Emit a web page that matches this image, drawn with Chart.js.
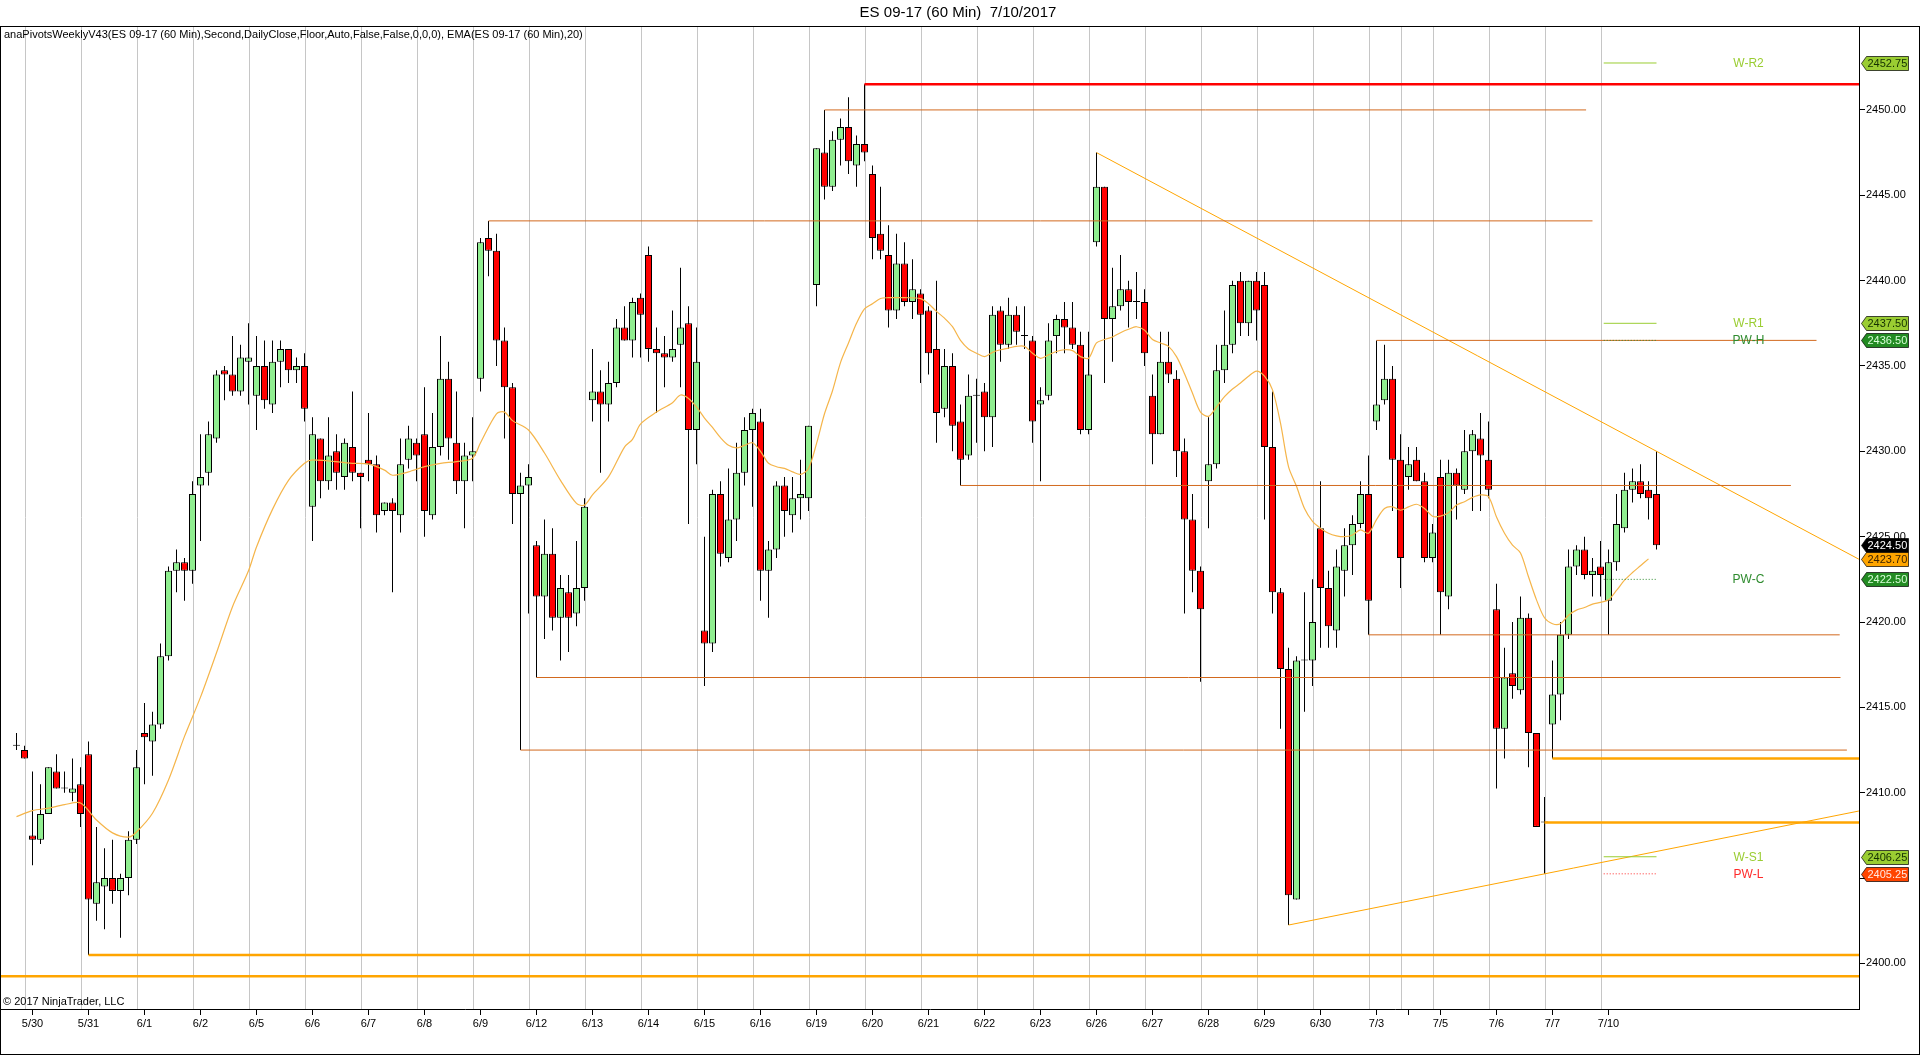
<!DOCTYPE html>
<html>
<head>
<meta charset="utf-8">
<title>ES 09-17 (60 Min) 7/10/2017</title>
<script src="https://cdn.jsdelivr.net/npm/chart.js@4.4.1/dist/chart.umd.min.js"></script>
<style>
  html, body { margin: 0; padding: 0; background: #fff; }
  #wrap { width: 1920px; height: 1055px; }
</style>
</head>
<body>
<div id="wrap"><canvas id="chart" width="1920" height="1055"></canvas></div>
<script>
// ---- chart data ----
const dayLabels = ['5/30','5/31','6/1','6/2','6/5','6/6','6/7','6/8','6/9','6/12','6/13','6/14','6/15','6/16','6/19',
  '6/20','6/21','6/22','6/23','6/26','6/27','6/28','6/29','6/30','7/3','','7/5','7/6','7/7','7/10'];
const dayFirstBar = [2,9,16,23,30,37,44,51,58,65,72,79,86,93,100,107,114,121,128,135,142,149,156,163,170,174,178,185,192,199];

const opens = [
  2412.75,2412.5,2407.5,2407.25,2408.75,2411.25,2410.25,2410.0,2410.5,2412.25,
  2403.5,2404.5,2405.0,2404.25,2405.0,2407.25,2413.5,2413.0,2414.0,2418.0,
  2423.0,2423.5,2423.0,2428.0,2428.75,2430.75,2434.75,2434.5,2433.5,2435.25,
  2433.25,2435.0,2432.75,2435.25,2436.0,2434.75,2435.0,2426.75,2430.75,2428.25,
  2430.0,2428.5,2430.25,2428.75,2429.5,2429.25,2426.5,2427.0,2426.25,2429.5,
  2430.5,2431.0,2426.25,2430.25,2434.25,2430.5,2428.25,2429.75,2434.25,2442.5,
  2441.75,2436.5,2433.75,2427.5,2428.0,2424.5,2421.5,2424.0,2420.25,2421.75,
  2420.5,2422.0,2433.0,2433.5,2432.75,2434.0,2437.25,2436.5,2439.0,2441.5,
  2436.0,2435.75,2435.5,2436.25,2437.5,2431.25,2419.5,2418.75,2427.5,2423.75,
  2426.0,2428.75,2431.25,2431.75,2423.0,2424.25,2428.0,2426.25,2427.25,2427.25,
  2439.75,2447.5,2445.5,2448.25,2449.0,2446.75,2448.0,2446.25,2442.75,2441.5,
  2438.25,2441.0,2438.75,2439.25,2438.25,2436.0,2432.5,2435.0,2431.75,2429.75,
  2433.25,2433.5,2432.0,2438.25,2436.25,2438.0,2436.75,2436.5,2432.75,2433.25,
  2436.75,2437.75,2437.25,2436.25,2431.25,2442.25,2445.5,2437.75,2438.5,2439.5,
  2438.75,2438.75,2433.25,2431.0,2435.25,2434.25,2430.0,2426.0,2423.0,2428.25,
  2429.25,2434.75,2436.25,2440.0,2437.5,2440.0,2439.75,2430.25,2421.75,2417.25,
  2403.75,2417.75,2417.75,2425.5,2422.0,2419.5,2423.0,2424.5,2425.75,2427.5,
  2431.75,2433.0,2434.25,2429.5,2428.5,2429.5,2428.25,2423.75,2428.5,2421.5,
  2428.75,2427.75,2430.0,2430.75,2429.5,2420.75,2413.75,2417.0,2416.0,2420.25,
  2413.5,2408.25,2414.0,2415.75,2419.25,2423.25,2424.25,2422.75,2423.25,2421.25,
  2423.5,2425.5,2427.75,2428.25,2427.75,2427.5
];
const highs = [
  2413.5,2412.75,2411.25,2410.5,2411.5,2412.25,2411.25,2412.0,2411.5,2413.0,
  2408.0,2406.75,2407.25,2405.25,2407.75,2412.5,2415.25,2414.75,2418.75,2423.25,
  2424.25,2423.75,2428.25,2431.0,2431.75,2434.75,2435.0,2436.75,2436.25,2437.5,
  2436.75,2436.5,2436.5,2436.5,2436.0,2435.5,2435.75,2432.0,2430.75,2432.0,
  2431.0,2430.75,2433.5,2428.75,2432.25,2429.75,2427.0,2427.25,2430.75,2431.5,
  2430.75,2433.75,2432.25,2436.75,2435.25,2433.5,2430.5,2432.0,2442.5,2443.5,
  2442.75,2437.25,2434.0,2428.75,2429.25,2424.75,2426.0,2425.5,2422.75,2422.75,
  2424.75,2427.25,2436.0,2434.75,2435.25,2437.75,2438.5,2439.0,2439.25,2442.0,
  2437.25,2436.75,2438.25,2440.75,2438.5,2437.25,2425.0,2427.75,2428.25,2429.0,
  2430.5,2432.0,2432.5,2432.5,2424.75,2428.25,2428.5,2428.5,2429.5,2431.5,
  2447.75,2450.0,2448.75,2449.5,2450.75,2448.5,2451.5,2446.75,2445.5,2443.25,
  2442.75,2442.25,2441.25,2439.5,2438.5,2440.0,2436.0,2435.75,2432.75,2434.5,
  2434.25,2434.0,2438.5,2438.5,2439.0,2438.5,2438.5,2436.75,2433.75,2437.5,
  2438.0,2438.75,2438.75,2437.0,2437.0,2447.5,2445.5,2440.75,2441.5,2440.0,
  2440.5,2439.5,2434.5,2437.0,2437.0,2434.75,2430.75,2427.5,2423.25,2432.0,
  2436.25,2438.25,2440.0,2440.5,2440.0,2440.5,2440.5,2433.5,2422.0,2418.5,
  2418.0,2421.75,2422.5,2428.25,2423.0,2424.25,2425.5,2426.25,2428.25,2429.75,
  2436.5,2436.25,2435.0,2431.0,2430.25,2430.25,2428.75,2425.75,2429.5,2429.5,
  2429.0,2431.25,2431.25,2432.25,2431.75,2422.25,2418.5,2420.0,2421.5,2420.5,
  2413.5,2409.75,2417.75,2420.0,2424.25,2424.5,2425.0,2423.75,2424.75,2424.25,
  2427.5,2428.75,2429.0,2429.25,2428.25,2430.0
];
const lows = [
  2412.5,2412.0,2405.75,2407.0,2408.75,2410.25,2410.0,2409.5,2408.0,2400.5,
  2402.5,2402.0,2403.5,2401.5,2404.0,2407.0,2410.5,2411.0,2413.75,2417.75,
  2421.75,2421.25,2422.25,2424.75,2428.0,2430.5,2433.0,2433.25,2433.25,2432.75,
  2431.25,2432.5,2432.25,2433.75,2434.0,2434.0,2431.75,2424.75,2427.25,2427.75,
  2427.75,2427.75,2428.25,2425.5,2428.25,2425.25,2426.25,2421.75,2425.25,2429.0,
  2428.25,2425.0,2426.0,2429.75,2429.5,2427.5,2425.5,2428.25,2433.5,2440.25,
  2435.0,2430.75,2425.75,2412.5,2420.5,2416.75,2419.0,2419.5,2417.75,2418.25,
  2419.75,2421.25,2431.75,2428.75,2431.75,2433.75,2436.5,2435.5,2435.5,2435.25,
  2432.25,2433.75,2435.25,2433.75,2425.75,2429.25,2416.25,2418.25,2423.25,2423.5,
  2424.75,2428.0,2426.75,2421.25,2420.25,2423.75,2425.0,2425.25,2426.0,2426.5,
  2438.5,2444.75,2445.25,2446.75,2446.25,2445.5,2447.0,2441.25,2441.25,2437.25,
  2437.75,2438.5,2437.75,2434.0,2434.5,2430.5,2432.0,2430.0,2428.0,2429.5,
  2430.5,2430.0,2430.25,2435.25,2436.0,2436.25,2436.0,2430.5,2428.25,2433.0,
  2435.75,2435.75,2436.0,2431.0,2431.0,2442.0,2434.0,2435.25,2438.25,2437.25,
  2437.75,2435.0,2429.25,2431.0,2434.0,2428.5,2420.5,2421.75,2416.5,2425.5,
  2429.0,2434.0,2435.75,2436.75,2436.75,2436.5,2426.0,2420.5,2413.75,2402.25,
  2403.75,2414.75,2416.25,2418.5,2418.5,2418.5,2421.5,2422.75,2425.5,2419.25,
  2431.25,2432.75,2426.5,2422.0,2427.75,2428.25,2423.5,2423.5,2419.25,2420.75,
  2426.0,2427.5,2426.5,2426.5,2427.25,2410.25,2412.0,2415.5,2415.75,2411.5,
  2408.0,2405.25,2412.0,2414.25,2419.0,2422.75,2422.5,2421.5,2421.5,2419.25,
  2423.0,2425.25,2427.0,2427.25,2426.0,2424.25
];
const closes = [
  2412.75,2412.0,2407.25,2408.75,2411.5,2410.25,2410.25,2410.25,2408.75,2403.75,
  2404.75,2405.0,2404.25,2405.0,2407.25,2411.5,2413.25,2414.0,2418.0,2423.0,
  2423.5,2423.0,2427.5,2428.5,2431.0,2434.5,2434.5,2433.5,2435.5,2435.5,
  2435.0,2433.0,2435.25,2436.0,2434.75,2435.0,2432.5,2431.0,2428.25,2429.75,
  2428.75,2430.5,2428.75,2428.5,2429.25,2426.25,2427.0,2426.5,2429.25,2430.75,
  2429.75,2426.5,2430.25,2434.25,2430.75,2428.25,2429.75,2430.0,2442.25,2441.75,
  2436.5,2433.75,2427.5,2428.0,2428.5,2421.5,2424.0,2420.25,2422.0,2420.25,
  2422.0,2426.75,2433.5,2432.75,2434.0,2437.25,2436.5,2438.75,2438.0,2436.0,
  2435.75,2435.5,2436.0,2437.25,2431.25,2435.25,2418.75,2427.5,2424.0,2426.0,
  2428.75,2431.25,2432.25,2423.0,2424.25,2428.0,2426.5,2427.25,2427.5,2431.5,
  2447.75,2445.5,2448.25,2449.0,2447.0,2448.0,2447.5,2442.5,2441.75,2438.25,
  2441.0,2438.75,2439.5,2438.0,2435.75,2432.25,2435.0,2431.5,2429.5,2433.25,
  2433.25,2432.0,2438.0,2436.25,2438.0,2437.0,2436.75,2431.75,2433.0,2436.5,
  2437.75,2437.25,2436.25,2431.25,2434.5,2445.5,2437.75,2438.5,2439.5,2438.75,
  2438.75,2435.75,2431.0,2435.25,2434.5,2430.0,2426.0,2423.0,2420.75,2429.25,
  2434.75,2436.25,2439.75,2437.5,2440.0,2438.25,2430.25,2421.75,2417.25,2404.0,
  2417.75,2417.75,2420.0,2422.0,2419.75,2423.25,2424.5,2425.75,2427.5,2421.25,
  2432.75,2434.25,2429.5,2423.75,2429.25,2428.25,2423.75,2425.25,2421.75,2428.75,
  2428.0,2430.0,2431.0,2429.75,2427.75,2413.75,2416.75,2416.25,2420.25,2413.5,
  2408.0,2408.25,2415.75,2419.25,2423.25,2424.25,2422.75,2423.0,2422.75,2423.5,
  2425.75,2427.75,2428.25,2427.5,2427.25,2424.5
];

// EMA(20), at these bar positions
const emaBars = [0,2,4,6,8,10,12,14,15,17,19,21,23,25,27,29,30,32,34,36,37,42,44,46,47,49,51,53,55,57,
  58,60,61,62,64,66,68,70,71,72,74,76,77,78,80,82,83,84,85,86,87,88,89,90,91,92,93,94,95,96,97,98,99,
  100,101,102,103,104,105,106,107,108,109,110,111,113,114,115,116,117,118,119,120,121,122,123,124,125,126,
  127,128,129,130,131,132,133,134,135,136,137,138,139,140,141,142,143,144,145,146,147,148,149,150,151,152,
  153,154,155,156,157,158,159,160,161,162,163,164,165,166,167,168,169,170,171,172,173,174,175,176,177,178,
  179,180,181,182,183,184,185,186,187,188,189,190,191,192,193,194,195,196,197,198,199,200,201,202,203,204];
const emaValues = [2408.6,2408.95,2409.1,2409.3,2409.4,2408.4,2407.65,2407.4,2407.7,2408.8,2410.75,2413.3,2415.6,
  2418.2,2420.9,2423.0,2424.4,2426.6,2428.3,2429.3,2429.5,2429.3,2429.25,2428.9,2428.6,2428.8,2429.1,2429.3,
  2429.4,2429.6,2430.5,2432.2,2432.3,2431.8,2431.25,2429.9,2428.3,2426.95,2426.85,2427.45,2428.5,2430.25,
  2430.7,2431.6,2432.3,2432.85,2433.3,2433.1,2432.6,2431.95,2431.4,2430.8,2430.35,2430.2,2430.35,2430.5,
  2430.0,2429.3,2429.1,2429.0,2428.8,2428.65,2429.0,2430.45,2432.2,2433.55,2435.2,2436.35,2437.5,2438.35,
  2438.65,2438.95,2439.0,2439.0,2439.0,2438.95,2438.65,2438.2,2437.8,2437.3,2436.5,2436.0,2435.75,2435.55,
  2435.8,2435.95,2436.05,2436.15,2436.15,2435.75,2435.45,2435.65,2435.85,2435.95,2435.9,2435.55,2435.45,
  2436.35,2436.55,2436.7,2436.95,2437.15,2437.3,2437.1,2436.55,2436.35,2436.15,2435.55,2434.55,2433.4,
  2432.3,2432.05,2432.6,2433.2,2433.65,2434.0,2434.4,2434.7,2434.4,2433.6,2431.65,2429.1,2427.95,2426.65,
  2425.9,2425.5,2425.2,2425.05,2425.0,2425.1,2425.4,2425.2,2426.0,2426.65,2426.75,2426.55,2426.75,2426.9,
  2426.65,2426.2,2426.2,2426.4,2426.85,2427.05,2427.3,2427.45,2427.35,2426.15,2425.2,2424.5,2424.05,
  2422.65,2421.3,2420.25,2419.9,2419.9,2420.4,2420.7,2420.85,2421.05,2421.15,2421.3,2421.85,2422.45,
  2422.9,2423.3,2423.7];

// horizontal swing levels: price, first bar, last bar, style
const levelPrices = [2451.5, 2450.0, 2443.5, 2436.5, 2428.0, 2419.25, 2416.75, 2412.5, 2412.0, 2408.25, 2400.5, 2399.25];
const levelFrom   = [106, 101, 59, 170, 118, 169, 65, 63, 192, 191, 9, -2];
const levelTo     = [231, 196.2, 197, 225, 221.8, 227.9, 228, 228.8, 231, 231, 231, 231];
const levelKind   = ['red','thin','thin','thin','thin','thin','thin','thin','thick','thick','thick','thick'];

// trend lines: start bar/price, end bar/price (end is at the right edge of the chart)
const trendFromBar   = [135, 159];
const trendFromPrice = [2447.5, 2402.25];
const trendToBar     = [230.3, 230.3];
const trendToPrice   = [2423.68, 2408.93];

// weekly pivots (short segments over the current session)
const pivotNames  = ['W-R2', 'W-R1', 'PW-H', 'PW-C', 'W-S1', 'PW-L'];
const pivotPrices = [2452.75, 2437.5, 2436.5, 2422.5, 2406.25, 2405.25];
const pivotColors = ['#9ACD32', '#9ACD32', '#2E8B2E', '#2E8B2E', '#9ACD32', '#FF2A2A'];
const pivotDotted = [false, false, true, true, false, true];
const pivotFrom = 198.4, pivotTo = 205, pivotLabelBar = 216.5;

// price tags on the right axis
const tagPrices = [2452.75, 2437.5, 2436.5, 2424.5, 2423.7, 2422.5, 2406.25, 2405.25];
const tagFill   = ['#9ACD32', '#9ACD32', '#228B22', '#000000', '#FFA500', '#228B22', '#9ACD32', '#FF4500'];
const tagText   = ['#143000', '#143000', '#D8FFD8', '#FFFFFF', '#3A2200', '#D8FFD8', '#143000', '#FFE8E0'];

const yTicks = [2400, 2405, 2410, 2415, 2420, 2425, 2430, 2435, 2440, 2445, 2450];

const TITLE = 'ES 09-17 (60 Min)  7/10/2017';
const INDICATORS = 'anaPivotsWeeklyV43(ES 09-17 (60 Min),Second,DailyClose,Floor,Auto,False,False,0,0,0), EMA(ES 09-17 (60 Min),20)';
const COPYRIGHT = '\u00A9 2017 NinjaTrader, LLC';

const UP = '#90EE90', DOWN = '#FF0000';
const FONT = 'Arial, "Liberation Sans", sans-serif';
const X_MIN = -1.9375, X_MAX = 230.3125;
const Y_MIN = 2397.331, Y_MAX = 2454.917;

const LEVEL_STYLE = {
  thin:  { color: '#D2691E', width: 1 },
  thick: { color: '#FFA500', width: 2.5 },
  red:   { color: '#FF0000', width: 2.5 },
};

// ---- datasets ----
const bars = opens.map((_, i) => i);

const wickSet = {
  type: 'bar',
  data: bars.map(i => ({ x: i, y: [lows[i], highs[i]] })),
  backgroundColor: '#000',
  borderWidth: 0,
  barThickness: 1,
  grouped: false,
  inflateAmount: 0,
  order: 11,
};

const bodySet = {
  type: 'bar',
  data: bars.map(i => ({ x: i, y: [opens[i], closes[i]] })),
  backgroundColor: bars.map(i => closes[i] > opens[i] ? UP : closes[i] < opens[i] ? DOWN : '#000'),
  borderColor: '#000',
  borderWidth: 1,
  borderSkipped: false,
  barThickness: 7,
  minBarLength: 1,
  grouped: false,
  inflateAmount: 0,
  order: 10,
};

const emaSet = {
  type: 'line',
  data: emaBars.map((b, k) => ({ x: b, y: emaValues[k] })),
  borderColor: '#F5B54A',
  borderWidth: 1.2,
  pointRadius: 0,
  tension: 0.3,
  order: 3,
};

const levelSets = levelPrices.map((p, k) => ({
  type: 'line',
  data: [{ x: levelFrom[k], y: p }, { x: levelTo[k], y: p }],
  borderColor: LEVEL_STYLE[levelKind[k]].color,
  borderWidth: LEVEL_STYLE[levelKind[k]].width,
  pointRadius: 0,
  order: 2,
}));

const trendSets = trendFromBar.map((b, k) => ({
  type: 'line',
  data: [{ x: b, y: trendFromPrice[k] }, { x: trendToBar[k], y: trendToPrice[k] }],
  borderColor: '#FFA500',
  borderWidth: 1,
  pointRadius: 0,
  order: 2,
}));

const pivotSets = pivotPrices.map((p, k) => ({
  type: 'line',
  data: [{ x: pivotFrom, y: p }, { x: pivotTo, y: p }],
  borderColor: pivotColors[k],
  borderWidth: 1,
  borderDash: pivotDotted[k] ? [1, 2] : [],
  pointRadius: 0,
  order: 1,
}));

// ---- plugins ----
const sessionGrid = {
  id: 'sessionGrid',
  beforeDatasetsDraw(chart) {
    const { ctx, chartArea } = chart;
    const xs = chart.scales.x;
    ctx.save();
    ctx.strokeStyle = '#C6C6C6';
    ctx.lineWidth = 1;
    dayFirstBar.forEach(b => {
      const px = xs.getPixelForValue(b - 0.875);
      ctx.beginPath();
      ctx.moveTo(px, chartArea.top);
      ctx.lineTo(px, chartArea.bottom);
      ctx.stroke();
    });
    ctx.restore();
  },
};

function drawTag(ctx, x, y, text, fill, color) {
  const h = 14, w = 42, tip = 5;
  ctx.beginPath();
  ctx.moveTo(x, y);
  ctx.lineTo(x + tip, y - h / 2);
  ctx.lineTo(x + tip + w, y - h / 2);
  ctx.lineTo(x + tip + w, y + h / 2);
  ctx.lineTo(x + tip, y + h / 2);
  ctx.closePath();
  ctx.fillStyle = fill;
  ctx.fill();
  ctx.strokeStyle = 'rgba(0,0,0,0.7)';
  ctx.lineWidth = 1;
  ctx.stroke();
  ctx.fillStyle = color;
  ctx.font = '11px ' + FONT;
  ctx.textAlign = 'left';
  ctx.textBaseline = 'middle';
  ctx.fillText(text, x + tip + 1, y + 0.5);
}

const overlay = {
  id: 'overlay',
  afterDraw(chart) {
    const { ctx, chartArea, width, height } = chart;
    const xs = chart.scales.x, ys = chart.scales.y;
    ctx.save();

    // outer frame
    ctx.strokeStyle = '#000';
    ctx.lineWidth = 1;
    ctx.strokeRect(0.5, chartArea.top + 0.5, width - 1, height - chartArea.top - 1);

    // title + indicator line + copyright
    ctx.fillStyle = '#000';
    ctx.font = '15px ' + FONT;
    ctx.textAlign = 'center';
    ctx.textBaseline = 'middle';
    ctx.fillText(TITLE, 958, 13);
    ctx.font = '11px ' + FONT;
    ctx.textAlign = 'left';
    ctx.fillText(INDICATORS, 4, chartArea.top + 9);
    ctx.fillText(COPYRIGHT, 3, chartArea.bottom - 7);

    // pivot labels
    ctx.font = '12px ' + FONT;
    ctx.textAlign = 'center';
    pivotNames.forEach((name, k) => {
      ctx.fillStyle = pivotColors[k];
      ctx.fillText(name, xs.getPixelForValue(pivotLabelBar), ys.getPixelForValue(pivotPrices[k]) + 0.5);
    });

    // price tags
    tagPrices.forEach((p, k) => {
      drawTag(ctx, chartArea.right + 2.5, Math.round(ys.getPixelForValue(p)) + 0.5, p.toFixed(2), tagFill[k], tagText[k]);
    });
    ctx.restore();
  },
};

// ---- chart ----
new Chart(document.getElementById('chart'), {
  type: 'bar',
  data: { datasets: [wickSet, bodySet, emaSet, ...levelSets, ...trendSets, ...pivotSets] },
  options: {
    responsive: false,
    animation: false,
    events: [],
    layout: { padding: { top: 26, left: 1, right: 0, bottom: 0 } },
    plugins: { legend: { display: false }, tooltip: { enabled: false } },
    scales: {
      x: {
        type: 'linear',
        min: X_MIN,
        max: X_MAX,
        offset: false,
        afterBuildTicks(scale) { scale.ticks = dayFirstBar.map(b => ({ value: b })); },
        afterFit(scale) { scale.height = 46; },
        ticks: {
          autoSkip: false,
          maxRotation: 0,
          padding: 2,
          color: '#000',
          font: { family: FONT, size: 11 },
          callback: (v) => dayLabels[dayFirstBar.indexOf(v)] ?? '',
        },
        grid: { drawOnChartArea: false, drawTicks: true, tickLength: 6, color: '#000', offset: false },
        border: { display: true, color: '#000' },
      },
      y: {
        type: 'linear',
        position: 'right',
        min: Y_MIN,
        max: Y_MAX,
        afterBuildTicks(scale) { scale.ticks = yTicks.map(v => ({ value: v })); },
        afterFit(scale) { scale.width = 61; },
        ticks: {
          padding: 1,
          color: '#000',
          font: { family: FONT, size: 11 },
          callback: (v) => Number(v).toFixed(2),
        },
        grid: { drawOnChartArea: false, drawTicks: true, tickLength: 6, color: '#000' },
        border: { display: true, color: '#000' },
      },
    },
  },
  plugins: [sessionGrid, overlay],
});
</script>
</body>
</html>
